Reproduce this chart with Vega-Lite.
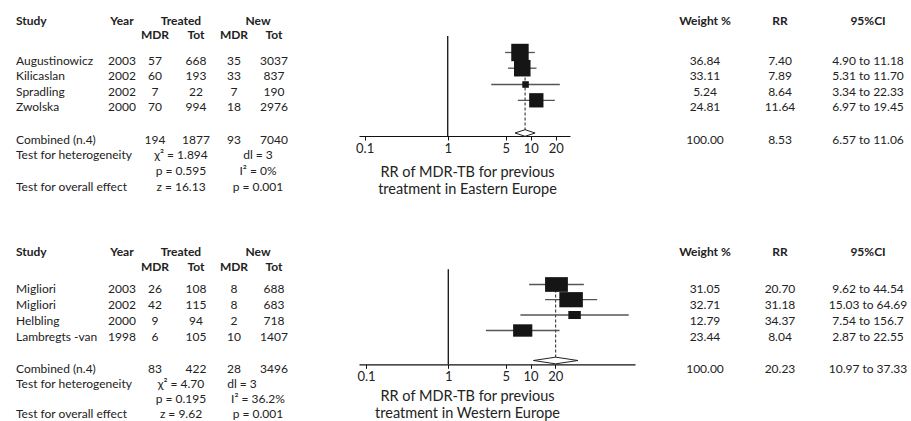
{
  "$schema": "https://vega.github.io/schema/vega-lite/v6.json",
  "width": 911,
  "height": 421,
  "padding": 0,
  "autosize": {"type": "none"},
  "background": "white",
  "config": {"view": {"stroke": null}},
  "datasets": {
    "cells": [
      {"line": 0, "col": 0, "text": "Study"}, {"line": 0, "col": 1, "text": "Year"}, {"line": 0, "col": 3, "text": "Treated"}, {"line": 0, "col": 7, "text": "New"},
      {"line": 0, "col": 9, "text": "Weight %"}, {"line": 0, "col": 10, "text": "RR"}, {"line": 0, "col": 11, "text": "95%CI"},
      {"line": 1, "col": 2, "text": "MDR"}, {"line": 1, "col": 4, "text": "Tot"}, {"line": 1, "col": 5, "text": "MDR"}, {"line": 1, "col": 8, "text": "Tot"},
      {"line": 2, "col": 0, "text": "Augustinowicz"}, {"line": 2, "col": 1, "text": "2003"}, {"line": 2, "col": 2, "text": "57"}, {"line": 2, "col": 4, "text": "668"}, {"line": 2, "col": 5, "text": "35"}, {"line": 2, "col": 8, "text": "3037"}, {"line": 2, "col": 9, "text": "36.84"}, {"line": 2, "col": 10, "text": "7.40"}, {"line": 2, "col": 11, "text": "4.90 to 11.18"},
      {"line": 3, "col": 0, "text": "Kilicaslan"}, {"line": 3, "col": 1, "text": "2002"}, {"line": 3, "col": 2, "text": "60"}, {"line": 3, "col": 4, "text": "193"}, {"line": 3, "col": 5, "text": "33"}, {"line": 3, "col": 8, "text": "837"}, {"line": 3, "col": 9, "text": "33.11"}, {"line": 3, "col": 10, "text": "7.89"}, {"line": 3, "col": 11, "text": "5.31 to 11.70"},
      {"line": 4, "col": 0, "text": "Spradling"}, {"line": 4, "col": 1, "text": "2002"}, {"line": 4, "col": 2, "text": "7"}, {"line": 4, "col": 4, "text": "22"}, {"line": 4, "col": 5, "text": "7"}, {"line": 4, "col": 8, "text": "190"}, {"line": 4, "col": 9, "text": "5.24"}, {"line": 4, "col": 10, "text": "8.64"}, {"line": 4, "col": 11, "text": "3.34 to 22.33"},
      {"line": 5, "col": 0, "text": "Zwolska"}, {"line": 5, "col": 1, "text": "2000"}, {"line": 5, "col": 2, "text": "70"}, {"line": 5, "col": 4, "text": "994"}, {"line": 5, "col": 5, "text": "18"}, {"line": 5, "col": 8, "text": "2976"}, {"line": 5, "col": 9, "text": "24.81"}, {"line": 5, "col": 10, "text": "11.64"}, {"line": 5, "col": 11, "text": "6.97 to 19.45"},
      {"line": 6, "col": 0, "text": "Combined (n.4)"}, {"line": 6, "col": 2, "text": "194"}, {"line": 6, "col": 4, "text": "1877"}, {"line": 6, "col": 5, "text": "93"}, {"line": 6, "col": 8, "text": "7040"}, {"line": 6, "col": 9, "text": "100.00"}, {"line": 6, "col": 10, "text": "8.53"}, {"line": 6, "col": 11, "text": "6.57 to 11.06"},
      {"line": 7, "col": 0, "text": "Test for heterogeneity"}, {"line": 7, "col": 3, "text": "χ² = 1.894"}, {"line": 7, "col": 7, "text": "dl = 3"},
      {"line": 8, "col": 3, "text": "p = 0.595"}, {"line": 8, "col": 7, "text": "I² = 0%"},
      {"line": 9, "col": 0, "text": "Test for overall effect"}, {"line": 9, "col": 3, "text": "z = 16.13"}, {"line": 9, "col": 7, "text": "p = 0.001"},
      {"line": 10, "col": 0, "text": "Study"}, {"line": 10, "col": 1, "text": "Year"}, {"line": 10, "col": 3, "text": "Treated"}, {"line": 10, "col": 7, "text": "New"},
      {"line": 10, "col": 9, "text": "Weight %"}, {"line": 10, "col": 10, "text": "RR"}, {"line": 10, "col": 11, "text": "95%CI"},
      {"line": 11, "col": 2, "text": "MDR"}, {"line": 11, "col": 4, "text": "Tot"}, {"line": 11, "col": 5, "text": "MDR"}, {"line": 11, "col": 8, "text": "Tot"},
      {"line": 12, "col": 0, "text": "Migliori"}, {"line": 12, "col": 1, "text": "2003"}, {"line": 12, "col": 2, "text": "26"}, {"line": 12, "col": 4, "text": "108"}, {"line": 12, "col": 5, "text": "8"}, {"line": 12, "col": 8, "text": "688"}, {"line": 12, "col": 9, "text": "31.05"}, {"line": 12, "col": 10, "text": "20.70"}, {"line": 12, "col": 11, "text": "9.62 to 44.54"},
      {"line": 13, "col": 0, "text": "Migliori"}, {"line": 13, "col": 1, "text": "2002"}, {"line": 13, "col": 2, "text": "42"}, {"line": 13, "col": 4, "text": "115"}, {"line": 13, "col": 5, "text": "8"}, {"line": 13, "col": 8, "text": "683"}, {"line": 13, "col": 9, "text": "32.71"}, {"line": 13, "col": 10, "text": "31.18"}, {"line": 13, "col": 11, "text": "15.03 to 64.69"},
      {"line": 14, "col": 0, "text": "Helbling"}, {"line": 14, "col": 1, "text": "2000"}, {"line": 14, "col": 2, "text": "9"}, {"line": 14, "col": 4, "text": "94"}, {"line": 14, "col": 5, "text": "2"}, {"line": 14, "col": 8, "text": "718"}, {"line": 14, "col": 9, "text": "12.79"}, {"line": 14, "col": 10, "text": "34.37"}, {"line": 14, "col": 11, "text": "7.54 to 156.7"},
      {"line": 15, "col": 0, "text": "Lambregts -van"}, {"line": 15, "col": 1, "text": "1998"}, {"line": 15, "col": 2, "text": "6"}, {"line": 15, "col": 4, "text": "105"}, {"line": 15, "col": 5, "text": "10"}, {"line": 15, "col": 8, "text": "1407"}, {"line": 15, "col": 9, "text": "23.44"}, {"line": 15, "col": 10, "text": "8.04"}, {"line": 15, "col": 11, "text": "2.87 to 22.55"},
      {"line": 16, "col": 0, "text": "Combined (n.4)"}, {"line": 16, "col": 2, "text": "83"}, {"line": 16, "col": 4, "text": "422"}, {"line": 16, "col": 5, "text": "28"}, {"line": 16, "col": 8, "text": "3496"}, {"line": 16, "col": 9, "text": "100.00"}, {"line": 16, "col": 10, "text": "20.23"}, {"line": 16, "col": 11, "text": "10.97 to 37.33"},
      {"line": 17, "col": 0, "text": "Test for heterogeneity"}, {"line": 17, "col": 3, "text": "χ² = 4.70"}, {"line": 17, "col": 6, "text": "dl = 3"},
      {"line": 18, "col": 3, "text": "p = 0.195"}, {"line": 18, "col": 7, "text": "I² = 36.2%"},
      {"line": 19, "col": 0, "text": "Test for overall effect"}, {"line": 19, "col": 3, "text": "z = 9.62"}, {"line": 19, "col": 7, "text": "p = 0.001"}
    ],
    "east": [
      {"line": 2, "kind": "study", "rr": 7.40, "lo": 4.90, "hi": 11.18, "w": 36.84},
      {"line": 3, "kind": "study", "rr": 7.89, "lo": 5.31, "hi": 11.70, "w": 33.11},
      {"line": 4, "kind": "study", "rr": 8.64, "lo": 3.34, "hi": 22.33, "w": 5.24},
      {"line": 5, "kind": "study", "rr": 11.64, "lo": 6.97, "hi": 19.45, "w": 24.81},
      {"line": 6, "kind": "pooled", "rr": 8.53, "lo": 6.57, "hi": 11.06, "w": 100}
    ],
    "west": [
      {"line": 12, "kind": "study", "rr": 20.70, "lo": 9.62, "hi": 44.54, "w": 31.05},
      {"line": 13, "kind": "study", "rr": 31.18, "lo": 15.03, "hi": 64.69, "w": 32.71},
      {"line": 14, "kind": "study", "rr": 34.37, "lo": 7.54, "hi": 156.7, "w": 12.79},
      {"line": 15, "kind": "study", "rr": 8.04, "lo": 2.87, "hi": 22.55, "w": 23.44},
      {"line": 16, "kind": "pooled", "rr": 20.23, "lo": 10.97, "hi": 37.33, "w": 100}
    ],
    "nullE": [{"rr": 1, "top": 1, "bottom": 7}],
    "nullW": [{"rr": 1, "top": 11, "bottom": 17}]
  },
  "layer": [
    {
      "data": {"name": "cells"},
      "encoding": {
        "x": {"field": "col", "type": "quantitative", "axis": null,
              "scale": {"domain": [0,1,2,3,4,5,6,7,8,9,10,11], "range": [16,122,155,181,196,234,242,258,274,705,780,868], "nice": false, "zero": false}},
        "y": {"field": "line", "type": "quantitative", "axis": null,
              "scale": {"domain": [0,1,2,3,4,5,6,7,8,9,10,11,12,13,14,15,16,17,18,19],
                        "range": [20.7,35,60.5,76,91.7,107.3,139.5,155.3,171,186.7,251.7,267.3,289,305,321,336.7,369.3,384,399.3,414.3], "nice": false, "zero": false}},
        "text": {"field": "text", "type": "nominal"}
      },
      "layer": [
        {"transform": [{"filter": "datum.col == 0 && datum.line % 10 >= 2"}],
         "mark": {"type": "text", "font": "Lato", "fontSize": 12, "color": "#222", "align": "left", "baseline": "middle"}},
        {"transform": [{"filter": "datum.col > 0 && datum.line % 10 >= 2"}],
         "mark": {"type": "text", "font": "Lato", "fontSize": 12, "color": "#222", "align": "center", "baseline": "middle"}},
        {"transform": [{"filter": "datum.col == 0 && datum.line % 10 < 2"}],
         "mark": {"type": "text", "font": "Lato", "fontSize": 12, "fontWeight": "bold", "color": "#222", "align": "left", "baseline": "middle"}},
        {"transform": [{"filter": "datum.col > 0 && datum.line % 10 < 2"}],
         "mark": {"type": "text", "font": "Lato", "fontSize": 12, "fontWeight": "bold", "color": "#222", "align": "center", "baseline": "middle"}}
      ]
    },
    {
      "layer": [
        {"data": {"name": "nullE"},
         "mark": {"type": "rule", "color": "#111", "strokeWidth": 1.3},
         "encoding": {
           "x": {"field": "rr", "type": "quantitative",
                 "scale": {"type": "log", "domain": [0.0856, 29.6], "range": [359, 570], "nice": false},
                 "axis": {"orient": "bottom", "offset": -285, "values": [0.1, 1, 5, 10, 20], "format": "~g", "grid": false,
                          "domainColor": "#111", "domainWidth": 1.2, "tickColor": "#111", "tickSize": 4, "tickWidth": 1,
                          "labelFont": "Lato", "labelFontSize": 13, "labelColor": "#222", "labelPadding": 2, "labelFlush": false, "labelOverlap": false,
                          "title": ["RR of MDR-TB for previous", "treatment in Eastern Europe"],
                          "titleFont": "Lato", "titleFontSize": 14.5, "titleFontWeight": "normal", "titleColor": "#222",
                          "titleX": 467, "titleY": 29, "titleBaseline": "top", "titleAlign": "center", "titleLineHeight": 17}},
           "y": {"field": "top", "type": "quantitative", "axis": null,
                 "scale": {"domain": [1,2,3,4,5,6,7], "range": [36,52.5,68.2,84.5,100.3,133,136], "nice": false, "zero": false}},
           "y2": {"field": "bottom"}
         }},
        {"data": {"name": "east"},
         "transform": [{"joinaggregate": [{"op": "min", "field": "line", "as": "first"}]}, {"filter": "datum.kind == 'pooled'"}],
         "mark": {"type": "rule", "color": "#222", "strokeWidth": 1, "strokeDash": [3, 2]},
         "encoding": {
           "x": {"field": "rr", "type": "quantitative"},
           "y": {"field": "first", "type": "quantitative"},
           "y2": {"field": "line"}
         }},
        {"data": {"name": "east"},
         "transform": [{"filter": "datum.kind == 'study'"}],
         "mark": {"type": "rule", "color": "#555", "strokeWidth": 1.3},
         "encoding": {
           "x": {"field": "lo", "type": "quantitative"},
           "x2": {"field": "hi"},
           "y": {"field": "line", "type": "quantitative"}
         }},
        {"data": {"name": "east"},
         "transform": [{"filter": "datum.kind == 'study'"}],
         "mark": {"type": "point", "shape": "square", "filled": true, "color": "#151515", "opacity": 1, "strokeWidth": 0},
         "encoding": {
           "x": {"field": "rr", "type": "quantitative"},
           "y": {"field": "line", "type": "quantitative"},
           "size": {"field": "w", "type": "quantitative", "legend": null,
                    "scale": {"domain": [0, 100], "range": [0, 825], "zero": true}}
         }},
        {"data": {"name": "east"},
         "transform": [{"filter": "datum.kind == 'pooled'"}],
         "mark": {"type": "point", "shape": "M-1,0L0,-0.33L1,0L0,0.33Z", "size": 400, "filled": true, "fill": "white", "stroke": "#222", "strokeWidth": 1, "opacity": 1},
         "encoding": {
           "x": {"field": "rr", "type": "quantitative"},
           "y": {"field": "line", "type": "quantitative"}
         }}
      ]
    },
    {
      "layer": [
        {"data": {"name": "nullW"},
         "mark": {"type": "rule", "color": "#111", "strokeWidth": 1.3},
         "encoding": {
           "x": {"field": "rr", "type": "quantitative",
                 "scale": {"type": "log", "domain": [0.082, 186.7], "range": [359, 635], "nice": false},
                 "axis": {"orient": "bottom", "offset": -56.7, "values": [0.1, 1, 5, 10, 20], "format": "~g", "grid": false,
                          "domainColor": "#111", "domainWidth": 1.2, "tickColor": "#111", "tickSize": 4, "tickWidth": 1,
                          "labelFont": "Lato", "labelFontSize": 13, "labelColor": "#222", "labelPadding": 2, "labelFlush": false, "labelOverlap": false,
                          "title": ["RR of MDR-TB for previous", "treatment in Western Europe"],
                          "titleFont": "Lato", "titleFontSize": 14.5, "titleFontWeight": "normal", "titleColor": "#222",
                          "titleX": 467, "titleY": 25, "titleBaseline": "top", "titleAlign": "center", "titleLineHeight": 17}},
           "y": {"field": "top", "type": "quantitative", "axis": null,
                 "scale": {"domain": [11,12,13,14,15,16,17], "range": [269.3,284.5,299.7,315,330.5,360.5,364.3], "nice": false, "zero": false}},
           "y2": {"field": "bottom"}
         }},
        {"data": {"name": "west"},
         "transform": [{"joinaggregate": [{"op": "min", "field": "line", "as": "first"}]}, {"filter": "datum.kind == 'pooled'"}],
         "mark": {"type": "rule", "color": "#222", "strokeWidth": 1, "strokeDash": [3, 2]},
         "encoding": {
           "x": {"field": "rr", "type": "quantitative"},
           "y": {"field": "first", "type": "quantitative"},
           "y2": {"field": "line"}
         }},
        {"data": {"name": "west"},
         "transform": [{"filter": "datum.kind == 'study'"}],
         "mark": {"type": "rule", "color": "#555", "strokeWidth": 1.3},
         "encoding": {
           "x": {"field": "lo", "type": "quantitative"},
           "x2": {"field": "hi"},
           "y": {"field": "line", "type": "quantitative"}
         }},
        {"data": {"name": "west"},
         "transform": [{"filter": "datum.kind == 'study'"}],
         "mark": {"type": "point", "shape": "M-1,-0.645L1,-0.645L1,0.645L-1,0.645Z", "filled": true, "color": "#151515", "opacity": 1, "strokeWidth": 0},
         "encoding": {
           "x": {"field": "rr", "type": "quantitative"},
           "y": {"field": "line", "type": "quantitative"},
           "size": {"field": "w", "type": "quantitative", "legend": null,
                    "scale": {"domain": [5, 35], "range": [0, 600], "zero": false}}
         }},
        {"data": {"name": "west"},
         "transform": [{"filter": "datum.kind == 'pooled'"}],
         "mark": {"type": "point", "shape": "M-1,0L0,-0.15L1,0L0,0.15Z", "size": 1980, "filled": true, "fill": "white", "stroke": "#222", "strokeWidth": 1, "opacity": 1},
         "encoding": {
           "x": {"field": "rr", "type": "quantitative"},
           "y": {"field": "line", "type": "quantitative"}
         }}
      ]
    }
  ],
  "resolve": {
    "scale": {"x": "independent", "y": "independent", "size": "independent"},
    "axis": {"x": "independent", "y": "independent"}
  }
}
